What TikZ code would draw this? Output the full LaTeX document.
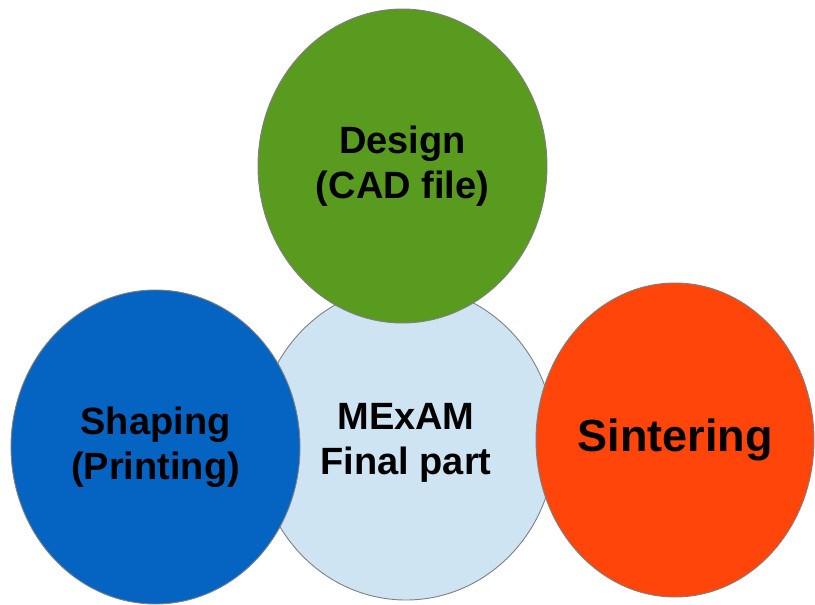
\documentclass[tikz,border=0pt]{standalone}
\usepackage{fontspec}
\setmainfont{Liberation Sans}
\usetikzlibrary{shapes.geometric}
\definecolor{cgreen}{RGB}{89,155,31}
\definecolor{cblue}{RGB}{5,99,193}
\definecolor{corange}{RGB}{255,69,10}
\definecolor{clight}{RGB}{206,228,242}
\definecolor{cedge}{RGB}{128,128,128}
\tikzset{
  blob/.style={ellipse, draw=cedge, line width=0.9pt, inner sep=0pt, align=center,
    font=\bfseries\fontsize{38}{45}\selectfont, text=black},
}
\begin{document}
\begin{tikzpicture}[x=1pt,y=-1pt]
\useasboundingbox (0,0) rectangle (815,605);
\node[blob, fill=clight, minimum width=298pt, minimum height=314pt] (final) at (406,443) {MExAM\\Final part};
\node[blob, fill=cgreen, minimum width=289pt, minimum height=314pt] (design) at (402.5,166) {Design\\(CAD file)};
\node[blob, fill=cblue, minimum width=289pt, minimum height=314pt] (shaping) at (155.5,447) {Shaping\\(Printing)};
\node[blob, fill=corange, minimum width=278pt, minimum height=314pt, font=\bfseries\fontsize{45}{50}\selectfont] (sinter) at (675,440) {Sintering};
\end{tikzpicture}
\end{document}
